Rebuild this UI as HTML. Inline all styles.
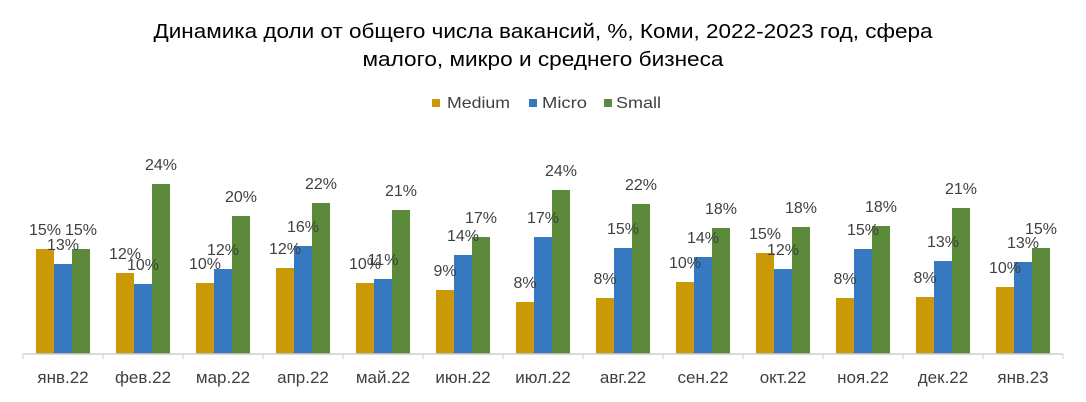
<!DOCTYPE html>
<html><head><meta charset="utf-8"><style>body{margin:0;background:#fff}svg{display:block}</style></head><body>
<svg width="1086" height="402" xmlns="http://www.w3.org/2000/svg" font-family="Liberation Sans, DejaVu Sans, sans-serif">
<rect width="1086" height="402" fill="#fff"/>
<text x="543" y="38" text-anchor="middle" font-size="20" fill="#000" textLength="779" lengthAdjust="spacingAndGlyphs">Динамика доли от общего числа вакансий, %, Коми, 2022-2023 год, сфера</text>
<text x="543" y="66" text-anchor="middle" font-size="20" fill="#000" textLength="361" lengthAdjust="spacingAndGlyphs">малого, микро и среднего бизнеса</text>
<rect x="432" y="99" width="8" height="8" fill="#C99A06"/><text x="447" y="108" font-size="16" fill="#404040" textLength="63" lengthAdjust="spacingAndGlyphs">Medium</text>
<rect x="529" y="99" width="8" height="8" fill="#3679C1"/><text x="542" y="108" font-size="16" fill="#404040" textLength="45" lengthAdjust="spacingAndGlyphs">Micro</text>
<rect x="604" y="99" width="8" height="8" fill="#5A8A3A"/><text x="616" y="108" font-size="16" fill="#404040" textLength="45" lengthAdjust="spacingAndGlyphs">Small</text>
<g fill="#C99A06">
<rect x="36" y="249" width="18" height="105"/><rect x="116" y="273" width="18" height="81"/><rect x="196" y="283" width="18" height="71"/><rect x="276" y="268" width="18" height="86"/><rect x="356" y="283" width="18" height="71"/><rect x="436" y="290" width="18" height="64"/><rect x="516" y="302" width="18" height="52"/><rect x="596" y="298" width="18" height="56"/><rect x="676" y="282" width="18" height="72"/><rect x="756" y="253" width="18" height="101"/><rect x="836" y="298" width="18" height="56"/><rect x="916" y="297" width="18" height="57"/><rect x="996" y="287" width="18" height="67"/>
</g>
<g fill="#3679C1">
<rect x="54" y="264" width="18" height="90"/><rect x="134" y="284" width="18" height="70"/><rect x="214" y="269" width="18" height="85"/><rect x="294" y="246" width="18" height="108"/><rect x="374" y="279" width="18" height="75"/><rect x="454" y="255" width="18" height="99"/><rect x="534" y="237" width="18" height="117"/><rect x="614" y="248" width="18" height="106"/><rect x="694" y="257" width="18" height="97"/><rect x="774" y="269" width="18" height="85"/><rect x="854" y="249" width="18" height="105"/><rect x="934" y="261" width="18" height="93"/><rect x="1014" y="262" width="18" height="92"/>
</g>
<g fill="#5A8A3A">
<rect x="72" y="249" width="18" height="105"/><rect x="152" y="184" width="18" height="170"/><rect x="232" y="216" width="18" height="138"/><rect x="312" y="203" width="18" height="151"/><rect x="392" y="210" width="18" height="144"/><rect x="472" y="237" width="18" height="117"/><rect x="552" y="190" width="18" height="164"/><rect x="632" y="204" width="18" height="150"/><rect x="712" y="228" width="18" height="126"/><rect x="792" y="227" width="18" height="127"/><rect x="872" y="226" width="18" height="128"/><rect x="952" y="208" width="18" height="146"/><rect x="1032" y="248" width="18" height="106"/>
</g>
<line x1="23" y1="354" x2="1063" y2="354" stroke="#d0d0d0" stroke-width="1.5"/>
<g stroke="#d0d0d0">
<line x1="23" y1="354" x2="23" y2="359"/><line x1="103" y1="354" x2="103" y2="359"/><line x1="183" y1="354" x2="183" y2="359"/><line x1="263" y1="354" x2="263" y2="359"/><line x1="343" y1="354" x2="343" y2="359"/><line x1="423" y1="354" x2="423" y2="359"/><line x1="503" y1="354" x2="503" y2="359"/><line x1="583" y1="354" x2="583" y2="359"/><line x1="663" y1="354" x2="663" y2="359"/><line x1="743" y1="354" x2="743" y2="359"/><line x1="823" y1="354" x2="823" y2="359"/><line x1="903" y1="354" x2="903" y2="359"/><line x1="983" y1="354" x2="983" y2="359"/><line x1="1063" y1="354" x2="1063" y2="359"/>
</g>
<g font-size="16" fill="#404040" text-anchor="middle">
<text x="45" y="235">15%</text><text x="63" y="250">13%</text><text x="81" y="235">15%</text>
<text x="125" y="259">12%</text><text x="143" y="270">10%</text><text x="161" y="170">24%</text>
<text x="205" y="269">10%</text><text x="223" y="255">12%</text><text x="241" y="202">20%</text>
<text x="285" y="254">12%</text><text x="303" y="232">16%</text><text x="321" y="189">22%</text>
<text x="365" y="269">10%</text><text x="383" y="265">11%</text><text x="401" y="196">21%</text>
<text x="445" y="276">9%</text><text x="463" y="241">14%</text><text x="481" y="223">17%</text>
<text x="525" y="288">8%</text><text x="543" y="223">17%</text><text x="561" y="176">24%</text>
<text x="605" y="284">8%</text><text x="623" y="234">15%</text><text x="641" y="190">22%</text>
<text x="685" y="268">10%</text><text x="703" y="243">14%</text><text x="721" y="214">18%</text>
<text x="765" y="239">15%</text><text x="783" y="255">12%</text><text x="801" y="213">18%</text>
<text x="845" y="284">8%</text><text x="863" y="235">15%</text><text x="881" y="212">18%</text>
<text x="925" y="283">8%</text><text x="943" y="247">13%</text><text x="961" y="194">21%</text>
<text x="1005" y="273">10%</text><text x="1023" y="248">13%</text><text x="1041" y="234">15%</text>
</g>
<g font-size="17" fill="#404040" text-anchor="middle">
<text x="63" y="383">янв.22</text><text x="143" y="383">фев.22</text><text x="223" y="383">мар.22</text><text x="303" y="383">апр.22</text><text x="383" y="383">май.22</text><text x="463" y="383">июн.22</text><text x="543" y="383">июл.22</text><text x="623" y="383">авг.22</text><text x="703" y="383">сен.22</text><text x="783" y="383">окт.22</text><text x="863" y="383">ноя.22</text><text x="943" y="383">дек.22</text><text x="1023" y="383">янв.23</text>
</g>
</svg>
</body></html>
